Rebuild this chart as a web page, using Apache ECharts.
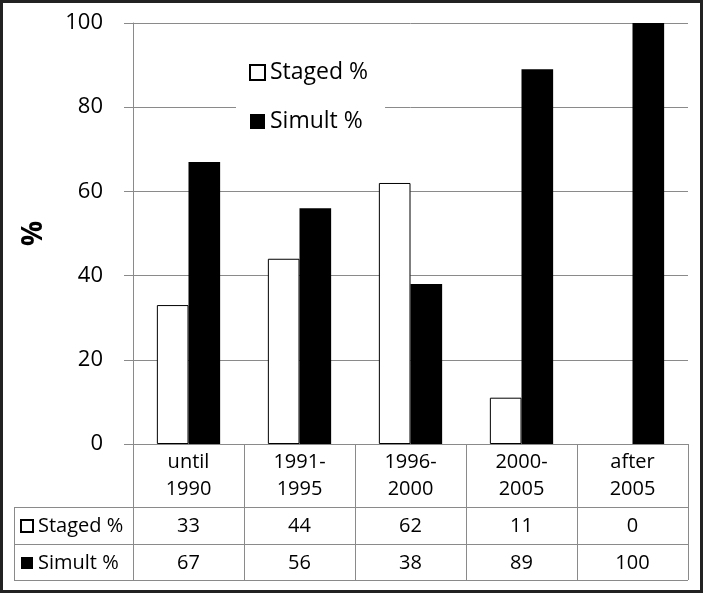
<!DOCTYPE html>
<html>
<head>
<meta charset="utf-8">
<script src="https://cdn.jsdelivr.net/npm/echarts@6/dist/echarts.min.js"></script>
<style>
html,body{margin:0;padding:0;background:#fff;}
#chart{width:703px;height:595px;}
</style>
</head>
<body>
<div id="chart"></div>
<script>
var categories = ['until\n1990', '1991-\n1995', '1996-\n2000', '2000-\n2005', 'after\n2005'];
var seriesNames = ['Staged %', 'Simult %'];
var staged = [33, 44, 62, 11, 0];
var simult = [67, 56, 38, 89, 100];
var yTicks = [0, 20, 40, 60, 80, 100];

var FONT = '"Open Sans", sans-serif';
var GRAY = '#8a8a8a';
var TXT = '#000';

var chart = echarts.init(document.getElementById('chart'), null, {renderer: 'canvas'});

function valueAxis(vals, offset) {
  return {
    type: 'category',
    data: vals.map(String),
    position: 'bottom',
    offset: offset,
    axisLine: {show: false},
    axisTick: {show: false},
    axisLabel: {interval: 0, fontFamily: FONT, fontSize: 20, lineHeight: 20, color: TXT, margin: 9}
  };
}

chart.setOption({
  animation: false,
  backgroundColor: '#fff',
  grid: {left: 133, right: 15, top: 23, bottom: 151, containLabel: false, outerBoundsMode: 'none'},
  legend: [
    {
      data: seriesNames,
      orient: 'vertical',
      left: 236, top: 49,
      backgroundColor: '#fff',
      padding: [12, 17, 12, 13],
      icon: 'rect',
      itemWidth: 15, itemHeight: 15,
      itemGap: 26,
      textStyle: {fontFamily: FONT, fontSize: 23, lineHeight: 22, color: TXT}
    },
    {
      data: seriesNames,
      orient: 'vertical',
      left: 20, top: 516,
      padding: 0,
      icon: 'rect',
      itemWidth: 12, itemHeight: 12,
      itemGap: 17,
      selectedMode: false,
      textStyle: {fontFamily: FONT, fontSize: 20, lineHeight: 20, color: TXT}
    }
  ],
  xAxis: [
    {
      type: 'category',
      data: categories,
      position: 'bottom',
      axisLine: {lineStyle: {color: GRAY, width: 1}},
      axisTick: {show: true, length: 136, lineStyle: {color: GRAY, width: 1}},
      axisLabel: {interval: 0, fontFamily: FONT, fontSize: 20, lineHeight: 27, color: TXT, margin: 5}
    },
    valueAxis(staged, 63),
    valueAxis(simult, 100)
  ],
  yAxis: {
    type: 'value',
    min: yTicks[0], max: yTicks[yTicks.length - 1], interval: 20,
    name: '%',
    nameLocation: 'middle',
    nameGap: 85,
    nameRotate: 90,
    nameTextStyle: {fontFamily: FONT, fontSize: 28, fontWeight: 'bold', color: TXT},
    axisLine: {show: true, lineStyle: {color: GRAY, width: 1}},
    axisTick: {show: true, length: 9, lineStyle: {color: GRAY, width: 1}},
    splitLine: {lineStyle: {color: GRAY, width: 1}},
    axisLabel: {fontFamily: FONT, fontSize: 22, color: TXT, margin: 30}
  },
  series: [
    {
      name: seriesNames[0], type: 'bar',
      data: staged.map(function (v) {
        return v === 0 ? {value: v, itemStyle: {borderWidth: 0}} : v;
      }),
      barGap: '0%', barCategoryGap: '43%',
      itemStyle: {color: '#ffffff', borderColor: '#000', borderWidth: 1}
    },
    {
      name: seriesNames[1], type: 'bar', data: simult,
      barGap: '0%', barCategoryGap: '43%',
      itemStyle: {color: '#000000'}
    }
  ],
  graphic: [
    {type: 'line', shape: {x1: 14, y1: 507.5, x2: 688, y2: 507.5}, style: {stroke: GRAY, lineWidth: 1}},
    {type: 'line', shape: {x1: 14, y1: 544.5, x2: 688, y2: 544.5}, style: {stroke: GRAY, lineWidth: 1}},
    {type: 'line', shape: {x1: 14, y1: 580.5, x2: 688, y2: 580.5}, style: {stroke: GRAY, lineWidth: 1}},
    {type: 'line', shape: {x1: 14.5, y1: 507, x2: 14.5, y2: 581}, style: {stroke: GRAY, lineWidth: 1}},
    {type: 'rect', shape: {x: 1.5, y: 1.5, width: 700, height: 590}, style: {fill: 'none', stroke: '#222', lineWidth: 3}}
  ]
});
</script>
</body>
</html>
